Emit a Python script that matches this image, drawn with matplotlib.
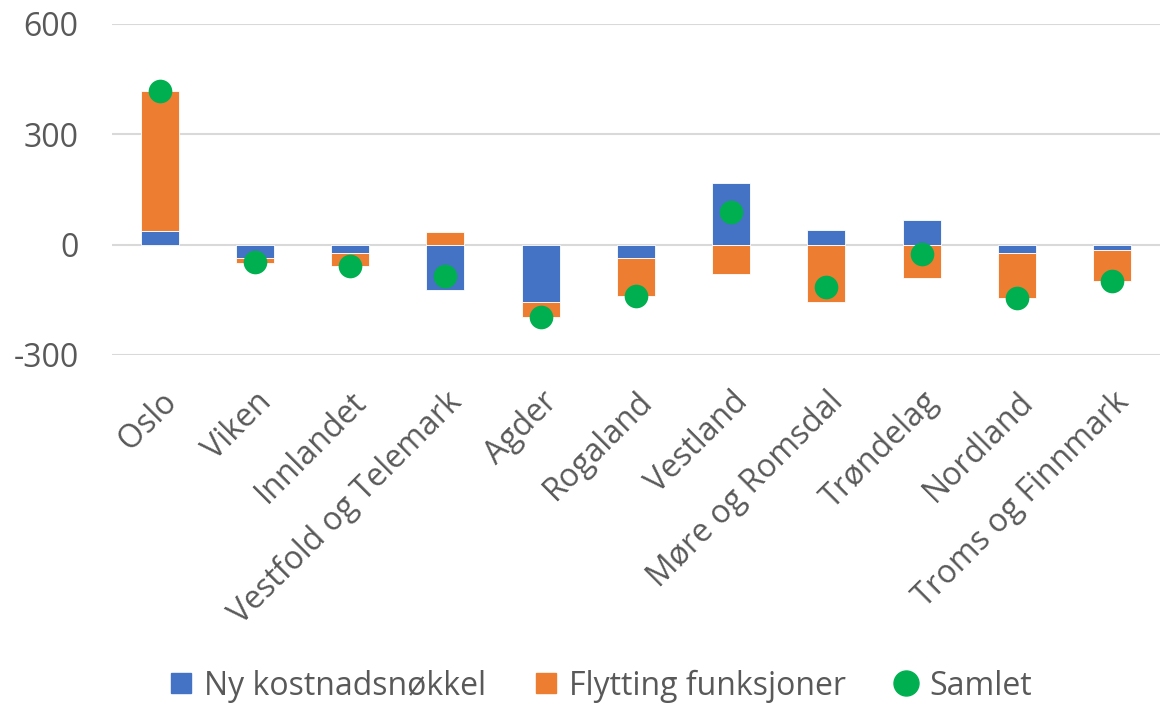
"""Endring per fylke: ny kostnadsnøkkel og flytting av funksjoner."""

import numpy as np
import matplotlib
matplotlib.use("Agg")
from matplotlib import pyplot as plt
from matplotlib.lines import Line2D

fylker = [
    "Oslo", "Viken", "Innlandet", "Vestfold og Telemark", "Agder", "Rogaland",
    "Vestland", "Møre og Romsdal", "Trøndelag", "Nordland", "Troms og Finnmark",
]
ny_kostnadsnokkel = [37, -37, -22, -122, -155, -35, 168, 40, 67, -23, -14]
flytting_funksjoner = [380, -12, -37, 34, -43, -106, -80, -157, -92, -122, -86]
samlet = [418, -48, -58, -86, -197, -141, 88, -116, -25, -145, -99]
y_ticks = [-300, 0, 300, 600]

BLUE = "#4472C4"
ORANGE = "#ED7D31"
GREEN = "#00B050"
TEXT = "#595959"

plt.rcParams["font.family"] = ["Open Sans", "DejaVu Sans"]
plt.rcParams["axes.unicode_minus"] = False

fig = plt.figure(figsize=(11.61, 7.05), dpi=100)
ax = fig.add_axes([0.0965, 0.4965, 0.9025, 0.4695])

x = np.arange(len(fylker))
blue = np.array(ny_kostnadsnokkel, dtype=float)
orange = np.array(flytting_funksjoner, dtype=float)
# Excel stacks positive and negative values separately
orange_bottom = np.where(np.sign(orange) == np.sign(blue), blue, 0)

width = 0.4
ax.bar(x, blue, width, color=BLUE, edgecolor="white", linewidth=0.6, zorder=2)
ax.bar(x, orange, width, bottom=orange_bottom, color=ORANGE,
       edgecolor="white", linewidth=0.6, zorder=2)
ax.scatter(x, samlet, s=290, color=GREEN, zorder=3, linewidths=0)

ax.set_xlim(-0.5, len(fylker) - 0.5)
ax.set_ylim(y_ticks[0], y_ticks[-1])
ax.set_yticks(y_ticks)
ax.yaxis.grid(True, color="#d9d9d9", linewidth=1.5, zorder=0)
ax.set_axisbelow(True)
for s in ax.spines.values():
    s.set_visible(False)
ax.tick_params(axis="both", length=0, colors=TEXT, labelsize=23)
ax.tick_params(axis="y", pad=24)
ax.set_xticks(x)
ax.set_xticklabels(fylker, rotation=45, ha="right", rotation_mode="anchor")
ax.tick_params(axis="x", pad=22)

handles = [
    Line2D([], [], marker="s", linestyle="none", markersize=15, color=BLUE),
    Line2D([], [], marker="s", linestyle="none", markersize=15, color=ORANGE),
    Line2D([], [], marker="o", linestyle="none", markersize=18, color=GREEN),
]
fig.legend(handles, ["Ny kostnadsnøkkel", "Flytting funksjoner", "Samlet"],
           loc="center", bbox_to_anchor=(0.514, 0.027), ncol=3, frameon=False,
           fontsize=23, labelcolor=TEXT, handletextpad=0.1, columnspacing=1.3,
           handlelength=1.2)

fig.savefig("out.png", dpi=100)
